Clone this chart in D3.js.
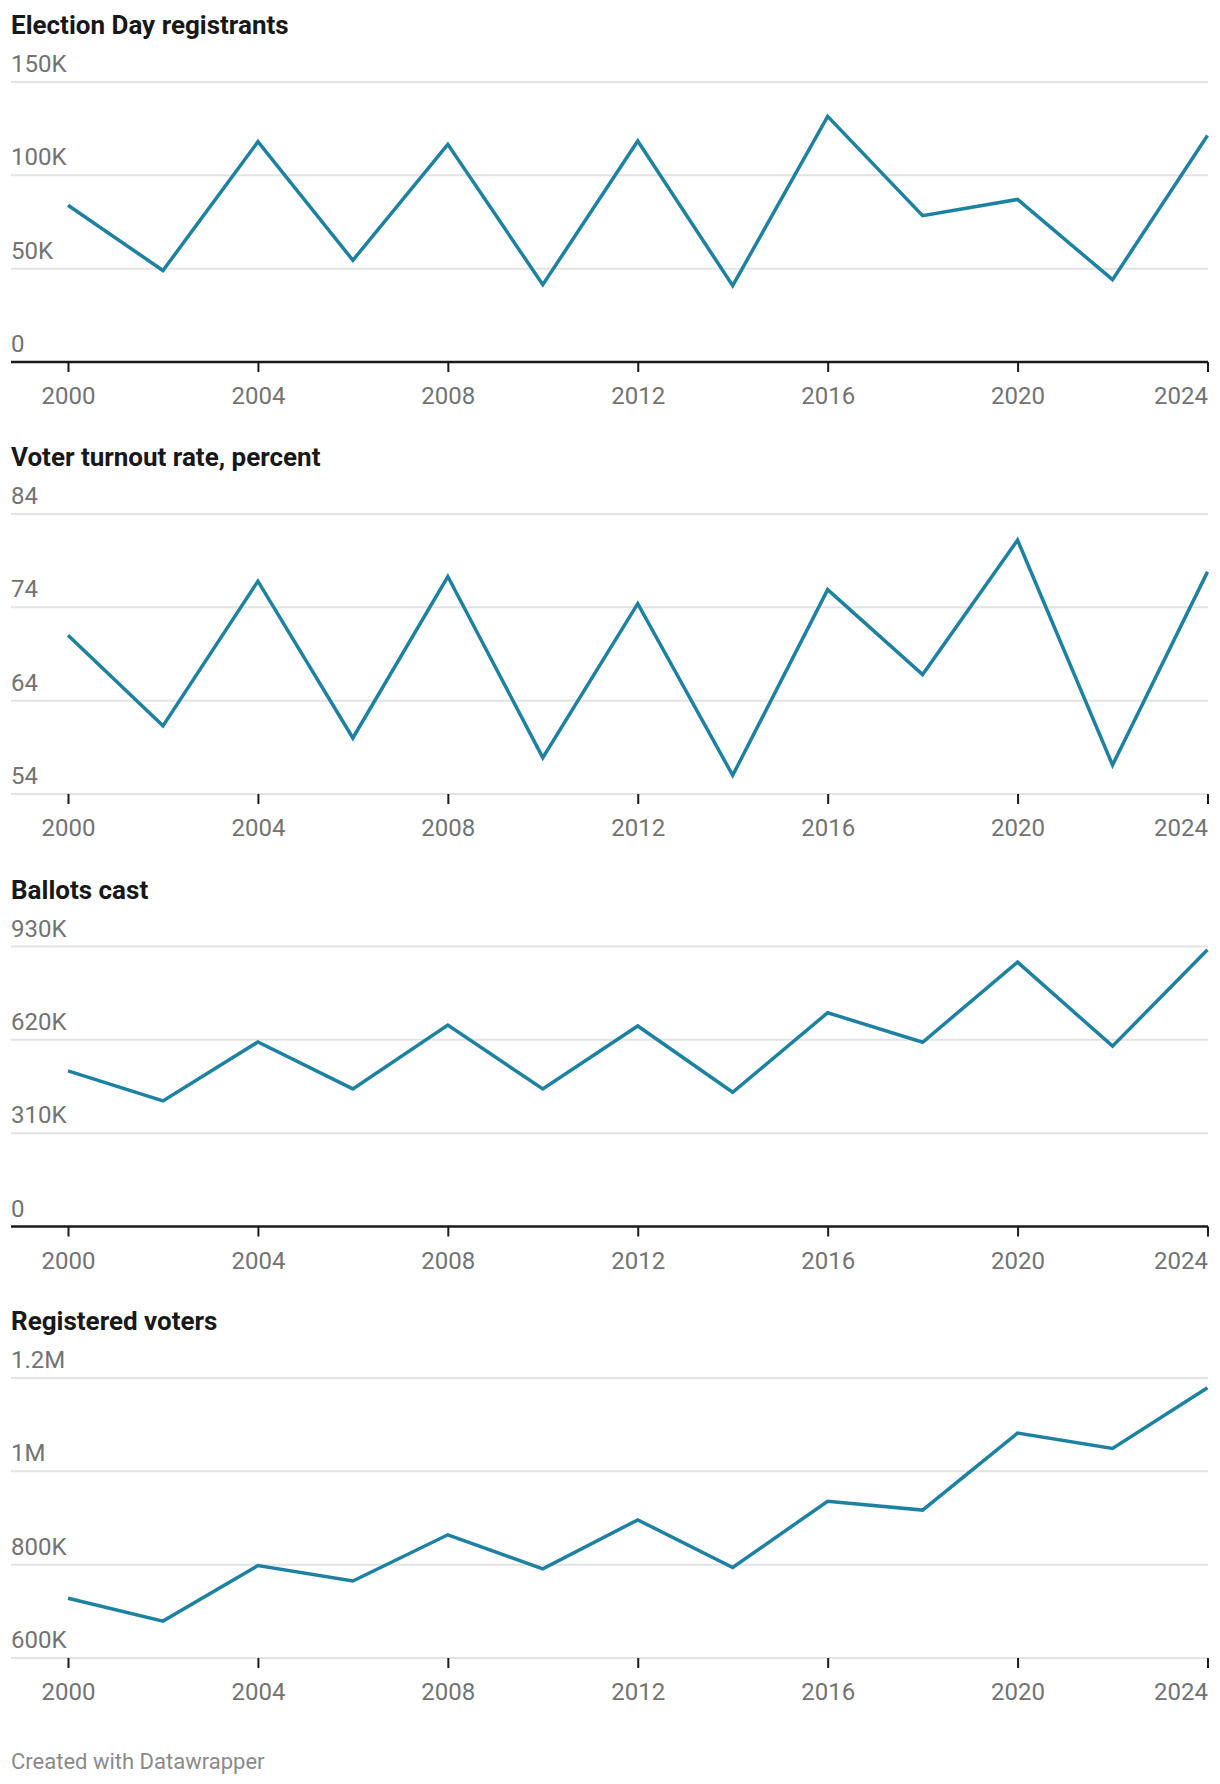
<!DOCTYPE html>
<html>
<head>
<meta charset="utf-8">
<script src="https://cdn.jsdelivr.net/npm/d3@7"></script>
<style>
  html, body { margin: 0; padding: 0; background: #fff; }
  svg { display: block; font-family: Roboto, "Noto Sans", sans-serif; }
</style>
</head>
<body>
<svg id="chart" width="1220" height="1784"></svg>
<script>
// ---- Data ----
const years = [2000, 2002, 2004, 2006, 2008, 2010, 2012, 2014, 2016, 2018, 2020, 2022, 2024];
const xTickYears = [2000, 2004, 2008, 2012, 2016, 2020, 2024];

const electionDayRegistrants = [84000, 49000, 118000, 54500, 116600, 41400, 118400, 40900, 131600, 78400, 87100, 44100, 121300];
const turnoutRate = [71.0, 61.3, 76.8, 60.0, 77.3, 57.9, 74.4, 56.0, 75.9, 66.8, 81.2, 57.1, 77.8];
const ballotsCast = [517000, 417000, 613000, 457000, 669000, 457000, 666000, 446000, 710000, 612000, 878000, 599000, 919000];
const registeredVoters = [728000, 679000, 798000, 765000, 864000, 791000, 896000, 794000, 936000, 917000, 1082000, 1049000, 1179000];

const titles = ["Election Day registrants", "Voter turnout rate, percent", "Ballots cast", "Registered voters"];
const yTicks1 = [0, 50000, 100000, 150000];
const yTickLabels1 = ["0", "50K", "100K", "150K"];
const yTicks2 = [54, 64, 74, 84];
const yTickLabels2 = ["54", "64", "74", "84"];
const yTicks3 = [0, 310000, 620000, 930000];
const yTickLabels3 = ["0", "310K", "620K", "930K"];
const yTicks4 = [600000, 800000, 1000000, 1200000];
const yTickLabels4 = ["600K", "800K", "1M", "1.2M"];
const footerText = "Created with Datawrapper";

const panels = [
  { title: titles[0], values: electionDayRegistrants, ticks: yTicks1, labels: yTickLabels1, zeroBase: true },
  { title: titles[1], values: turnoutRate, ticks: yTicks2, labels: yTickLabels2, zeroBase: false },
  { title: titles[2], values: ballotsCast, ticks: yTicks3, labels: yTickLabels3, zeroBase: true },
  { title: titles[3], values: registeredVoters, ticks: yTicks4, labels: yTickLabels4, zeroBase: false }
];

// ---- Layout ----
const svg = d3.select("#chart");
const leftEdge = 11, rightEdge = 1208;
const panelTops = [82, 514, 946.5, 1378];
const plotH = 280;
const lineColor = "#1d81a2";

const x = d3.scaleLinear().domain([2000, 2024]).range([68, 1207.5]);

panels.forEach((p, i) => {
  const top = panelTops[i];
  const bottom = top + plotH;
  const y = d3.scaleLinear().domain([p.ticks[0], p.ticks[p.ticks.length - 1]]).range([bottom, top]);
  const g = svg.append("g");

  // title
  g.append("text")
    .attr("x", leftEdge)
    .attr("y", top - 48)
    .attr("font-size", 26)
    .attr("font-weight", 700)
    .attr("fill", "#181818")
    .text(p.title);

  // gridlines
  const gridTicks = p.zeroBase ? p.ticks.slice(1) : p.ticks;
  g.selectAll("line.grid").data(gridTicks).enter().append("line")
    .attr("class", "grid")
    .attr("x1", leftEdge).attr("x2", rightEdge)
    .attr("y1", d => y(d)).attr("y2", d => y(d))
    .attr("stroke", "#e3e3e3").attr("stroke-width", 2);

  // y labels
  g.selectAll("text.ylab").data(p.ticks).enter().append("text")
    .attr("class", "ylab")
    .attr("x", leftEdge)
    .attr("y", d => y(d) - 10)
    .attr("font-size", 24)
    .attr("fill", "#737373")
    .text((d, j) => p.labels[j]);

  // baseline for zero-based charts
  if (p.zeroBase) {
    g.append("line")
      .attr("x1", leftEdge).attr("x2", rightEdge)
      .attr("y1", y(0)).attr("y2", y(0))
      .attr("stroke", "#1a1a1a").attr("stroke-width", 2.5);
  }

  // x axis ticks and labels
  const xAxis = d3.axisBottom(x)
    .tickValues(xTickYears)
    .tickFormat(d3.format("d"))
    .tickSize(10)
    .tickPadding(15);
  const ax = g.append("g")
    .attr("transform", `translate(0,${bottom})`)
    .call(xAxis);
  ax.select(".domain").remove();
  ax.selectAll(".tick line").attr("stroke", "#1a1a1a").attr("stroke-width", 2);
  ax.selectAll(".tick text")
    .attr("font-size", 24)
    .attr("font-family", "Roboto, 'Noto Sans', sans-serif")
    .attr("fill", "#737373")
    .attr("text-anchor", d => d === 2024 ? "end" : "middle");

  // data line
  const line = d3.line()
    .x((d, j) => x(years[j]))
    .y(d => y(d));
  g.append("path")
    .datum(p.values)
    .attr("d", line)
    .attr("fill", "none")
    .attr("stroke", lineColor)
    .attr("stroke-width", 3.5)
    .attr("stroke-linejoin", "miter")
    .attr("stroke-linecap", "butt");
});

// footer
svg.append("text")
  .attr("x", leftEdge)
  .attr("y", 1769)
  .attr("font-size", 22)
  .attr("fill", "#8a8a8a")
  .text(footerText);
</script>
</body>
</html>
